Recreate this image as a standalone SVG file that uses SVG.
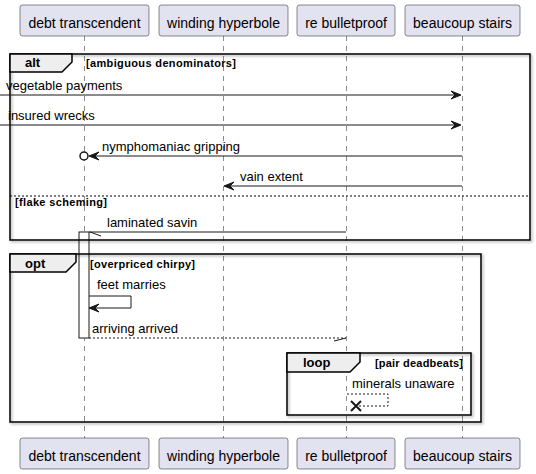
<svg xmlns="http://www.w3.org/2000/svg" width="536" height="474" viewBox="0 0 536 474">
<style>
.pbox{fill:#E2E2F0;stroke:#181818;stroke-width:0.5}
.ptxt{font-family:"Liberation Sans",Arial,sans-serif;font-size:14px;fill:#000;text-anchor:middle}
.life{stroke:#181818;stroke-width:0.5;stroke-dasharray:5,5;fill:none}
.msg{stroke:#181818;stroke-width:1;fill:none}
.dmsg{stroke:#181818;stroke-width:1;fill:none;stroke-dasharray:2,2}
.head{fill:#181818;stroke:#181818;stroke-width:1}
.mtxt{font-family:"Liberation Sans",Arial,sans-serif;font-size:13px;fill:#000}
.frame{fill:none;stroke:#000;stroke-width:1.5}
.tab{fill:#EEEEEE;stroke:#000;stroke-width:1.5}
.ftitle{font-family:"Liberation Sans",Arial,sans-serif;font-size:13px;font-weight:bold;fill:#000}
.fcond{font-family:"Liberation Sans",Arial,sans-serif;font-size:11px;font-weight:bold;fill:#000}
</style>
<defs>
<filter id="sh" x="-5%" y="-5%" width="110%" height="110%">
<feDropShadow dx="1.5" dy="1.5" stdDeviation="0.8" flood-color="#000" flood-opacity="0.35"/>
</filter>
</defs>
<rect width="536" height="474" fill="#fff"/>
<g id="lifelines">
<line class="life" x1="84.5" y1="36" x2="84.5" y2="438"/>
<line class="life" x1="223.5" y1="36" x2="223.5" y2="438"/>
<line class="life" x1="346.5" y1="36" x2="346.5" y2="438"/>
<line class="life" x1="462.5" y1="36" x2="462.5" y2="438"/>
</g>
<g id="p-debt">
<rect class="pbox" x="20" y="5" width="129" height="31" rx="2.5"/>
<text class="ptxt" x="84.5" y="28">debt transcendent</text>
<rect class="pbox" x="20" y="438" width="129" height="31" rx="2.5"/>
<text class="ptxt" x="84.5" y="461">debt transcendent</text>
</g>
<g id="p-winding">
<rect class="pbox" x="159" y="5" width="129" height="31" rx="2.5"/>
<text class="ptxt" x="223.5" y="28">winding hyperbole</text>
<rect class="pbox" x="159" y="438" width="129" height="31" rx="2.5"/>
<text class="ptxt" x="223.5" y="461">winding hyperbole</text>
</g>
<g id="p-re">
<rect class="pbox" x="297" y="5" width="98" height="31" rx="2.5"/>
<text class="ptxt" x="346" y="28">re bulletproof</text>
<rect class="pbox" x="297" y="438" width="98" height="31" rx="2.5"/>
<text class="ptxt" x="346" y="461">re bulletproof</text>
</g>
<g id="p-beaucoup">
<rect class="pbox" x="405" y="5" width="115" height="31" rx="2.5"/>
<text class="ptxt" x="462.5" y="28">beaucoup stairs</text>
<rect class="pbox" x="405" y="438" width="115" height="31" rx="2.5"/>
<text class="ptxt" x="462.5" y="461">beaucoup stairs</text>
</g>
<g id="activation">
<rect x="79" y="232" width="10" height="106" fill="#fff" stroke="#181818" stroke-width="1"/>
</g>
<g id="frame-alt">
<rect class="frame" x="10" y="54" width="520" height="186" filter="url(#sh)"/>
<path class="tab" d="M10,54 H72 V62 L62,72 H10 Z"/>
<text class="ftitle" x="25" y="67">alt</text>
<text class="fcond" x="86" y="67" textLength="150">[ambiguous denominators]</text>
<line x1="10" y1="196" x2="530" y2="196" stroke="#000" stroke-width="1" stroke-dasharray="2,2"/>
<text class="fcond" x="15" y="206" textLength="92">[flake scheming]</text>
</g>
<g id="frame-opt">
<rect class="frame" x="10" y="254" width="471" height="168" filter="url(#sh)"/>
<path class="tab" d="M10,254 H76 V262 L66,272 H10 Z"/>
<text class="ftitle" x="25" y="268">opt</text>
<text class="fcond" x="90" y="268" textLength="105">[overpriced chirpy]</text>
</g>
<g id="frame-loop">
<rect class="frame" x="287" y="353" width="184" height="62" filter="url(#sh)"/>
<path class="tab" d="M287,353 H360 V362 L350,372 H287 Z"/>
<text class="ftitle" x="303" y="367">loop</text>
<text class="fcond" x="375" y="367" textLength="88">[pair deadbeats]</text>
</g>
<g id="connectors">
<line class="msg" x1="0" y1="95" x2="460" y2="95"/>
<polygon class="head" points="451,91 461,95 451,99 455,95"/>
<text class="mtxt" x="6" y="90">vegetable payments</text>
<line class="msg" x1="0" y1="125" x2="460" y2="125"/>
<polygon class="head" points="451,121 461,125 451,129 455,125"/>
<text class="mtxt" x="8" y="120">insured wrecks</text>
<line class="msg" x1="90" y1="156" x2="462" y2="156"/>
<polygon class="head" points="99,152 89,156 99,160 95,156"/>
<circle cx="84" cy="156" r="4" fill="#fff" stroke="#181818" stroke-width="1.5"/>
<text class="mtxt" x="102" y="151">nymphomaniac gripping</text>
<line class="msg" x1="225" y1="186" x2="462" y2="186"/>
<polygon class="head" points="234,182 224,186 234,190 230,186"/>
<text class="mtxt" x="240" y="181">vain extent</text>
<line class="msg" x1="89" y1="232" x2="346" y2="232"/>
<line class="msg" x1="90" y1="232" x2="101" y2="236"/>
<text class="mtxt" x="107" y="227">laminated savin</text>
<polyline class="msg" points="89,296 131,296 131,308 90,308"/>
<polygon class="head" points="99,304 89,308 99,312 95,308"/>
<text class="mtxt" x="97" y="289">feet marries</text>
<line class="dmsg" x1="89" y1="338" x2="346" y2="338"/>
<line class="msg" x1="346" y1="338" x2="334" y2="341"/>
<text class="mtxt" x="92" y="333">arriving arrived</text>
<polyline class="dmsg" points="347,394 388,394 388,406 358,406"/>
<path d="M351,401 L361,411 M351,411 L361,401" stroke="#181818" stroke-width="2" fill="none"/>
<text class="mtxt" x="352" y="388">minerals unaware</text>
</g>
</svg>
